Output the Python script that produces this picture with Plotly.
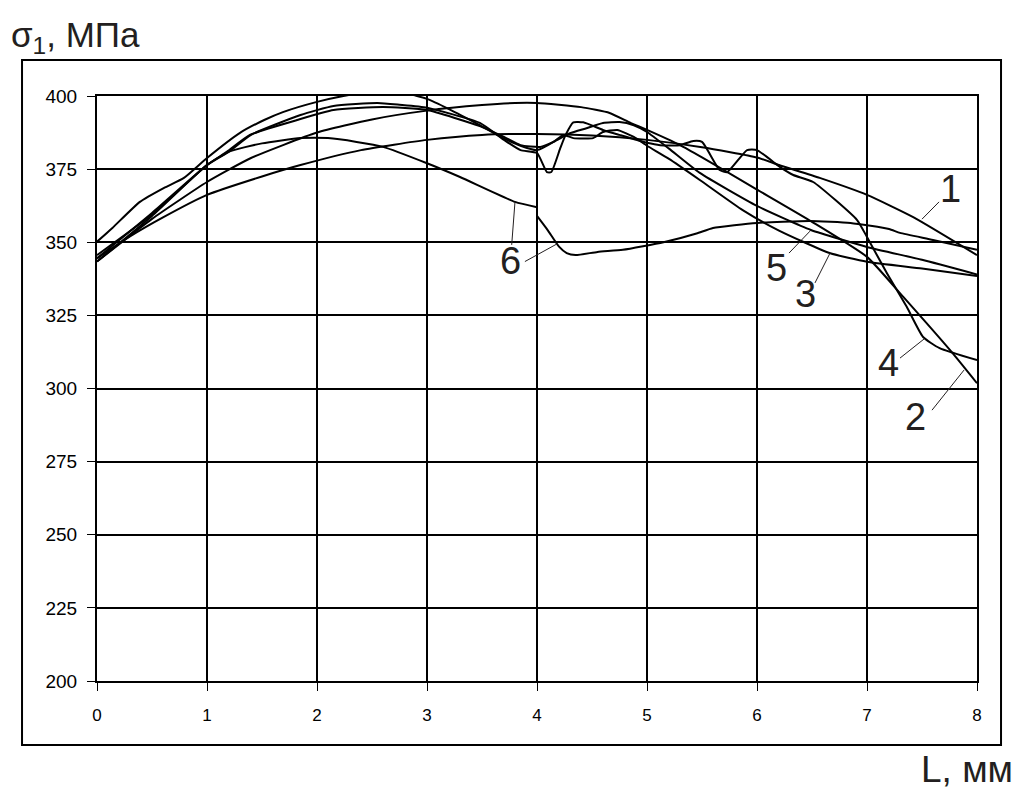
import plotly.graph_objects as go

# ---- data ----
x1 = [0, 0.3, 0.6, 1.0, 1.5, 1.85, 2.4, 3.0, 3.5, 4.0, 4.5, 5.0, 5.5, 6.0, 6.2, 6.57, 7.0, 7.42, 8.0]
y1 = [344.5, 352, 358.5, 366.2, 372.5, 376.4, 381.5, 385, 386.7, 387, 386.5, 385, 382.5, 379, 376.4, 372, 366.2, 358.6, 345.6]

x2 = [0, 0.5, 1.0, 1.4, 2.0, 2.5, 3.0, 3.5, 3.8, 4.0, 4.4, 4.66, 4.85, 5.0, 5.3, 5.5, 6.0, 6.5, 7.0, 7.33, 7.78, 8.0]
y2 = [343.4, 358, 370.6, 378.8, 387.5, 392, 395, 396.9, 397.6, 397.6, 396.2, 394.2, 390.8, 388.4, 383.2, 379, 368, 357, 345, 331.3, 312, 301.8]

x3 = [0, 0.14, 0.39, 0.61, 0.79, 1.0, 1.3, 1.52, 1.69, 2.0, 2.24, 2.5, 2.8, 3.0, 3.2, 3.48, 3.7, 3.85, 4.0, 4.15,
      4.24, 4.33, 4.51, 4.6, 4.73, 4.88, 5.0, 5.2, 5.48, 5.87, 6.2, 6.66, 7.0, 7.5, 8.0]
y3 = [350.2, 354.9, 363.8, 368.6, 372, 378.8, 387.4, 391.8, 394.5, 398, 400, 401.5, 401, 399, 395.5, 390, 385.5, 383, 381.5, 384.3,
      386.7, 385.6, 385.6, 387.7, 388.4, 386, 383, 378.5, 371.3, 361, 354, 346.3, 343.3, 341, 338.5]

x4 = [0, 0.5, 1.0, 1.2, 1.4, 1.85, 2.15, 2.55, 2.75, 3.0, 3.48, 3.7, 3.85, 4.0, 4.09, 4.13, 4.21, 4.26, 4.33, 4.42,
      4.6, 4.75, 5.0, 5.12, 5.3, 5.42, 5.5, 5.66, 5.73, 5.91, 6.0, 6.21, 6.33, 6.51, 6.91, 7.0, 7.18, 7.36, 7.51, 7.66, 8.0]
y4 = [343.4, 359, 376.4, 381, 386.7, 393.5, 396.6, 397.6, 397, 396, 390.8, 385, 381.5, 380.5, 374, 374, 382, 386.7, 391, 391,
      388.4, 386.7, 384, 383.2, 383.2, 384.6, 384.3, 374.7, 374, 381.5, 381.5, 375.7, 373, 370.6, 357.6, 351.8, 339.5, 328, 317.6, 313.8, 309.7]

x5 = [0, 0.5, 1.0, 1.18, 1.39, 1.82, 2.15, 2.6, 3.0, 3.48, 3.7, 3.85, 4.03, 4.15, 4.3, 4.45, 4.6, 4.75, 4.88, 5.0,
      5.2, 5.48, 6.0, 6.49, 7.0, 7.5, 8.0]
y5 = [345.6, 359.5, 376.4, 380.9, 386.7, 391.8, 395.2, 396.2, 395.2, 389.7, 386, 383.2, 382.6, 384.3, 387.3, 389, 390.8, 391.1, 390, 387.7,
      382, 373.7, 362.4, 354.2, 348.4, 344, 339]

x6 = [0, 0.5, 1.0, 1.2, 1.5, 1.85, 2.1, 2.36, 2.6, 3.0, 3.3, 3.8, 4.0, None,
      4.0, 4.1, 4.2, 4.27, 4.35, 4.55, 4.78, 5.15, 5.45, 5.6, 6.0, 6.48, 6.85, 7.2, 7.3, 7.6, 8.0]
y6 = [344.5, 360, 376.4, 381, 383.8, 385.6, 385.6, 384.3, 382.6, 377, 372.3, 363.8, 362, None,
      359, 354, 348.5, 346.3, 345.6, 346.7, 347.4, 350, 353, 354.9, 356.6, 357.3, 356.6, 354.5, 353.2, 350.8, 347.4]

series_names = ["1", "2", "3", "4", "5", "6"]
series_x = [x1, x2, x3, x4, x5, x6]
series_y = [y1, y2, y3, y4, y5, y6]

x_ticks = [0, 1, 2, 3, 4, 5, 6, 7, 8]
y_ticks = [200, 225, 250, 275, 300, 325, 350, 375, 400]

# curve labels: text, label position, pointer start, pointer end (data units)
label_text = ["1", "5", "3", "4", "2", "6", "6"]
label_pos = [(7.755, 368.2), (6.173, 341.2), (6.445, 332.3), (7.191, 308.7), (7.445, 290.4), (3.755, 343.6), None]
pointer_from = [(7.5, 357.9), (6.482, 353.8), (6.664, 346.3), (7.518, 316.9), (7.882, 306.3), (3.80, 363.9), (4.18, 349.4)]
pointer_to = [(7.655, 363.8), (6.291, 346.3), (6.527, 336.1), (7.30, 310.4), (7.591, 292.6), (3.77, 349.1), (3.89, 343.4)]

FONT = "Arial, Liberation Sans, sans-serif"
INK = "#231f20"

fig = go.Figure()
for name, xs, ys in zip(series_names, series_x, series_y):
    fig.add_trace(go.Scatter(x=xs, y=ys, mode="lines", name=name,
                             line=dict(color="black", width=2, shape="spline", smoothing=0.5),
                             connectgaps=False, hoverinfo="skip"))

shapes = []
for p0, p1 in zip(pointer_from, pointer_to):
    shapes.append(dict(type="line", xref="x", yref="y", x0=p0[0], y0=p0[1], x1=p1[0], y1=p1[1],
                       line=dict(color=INK, width=1)))
# outer frame
shapes.append(dict(type="rect", xref="paper", yref="paper", x0=-0.0852, x1=1.0273, y0=-0.1094, y1=1.0615,
                   line=dict(color="black", width=2), layer="below"))

annotations = []
for t, p in zip(label_text, label_pos):
    if p is None:
        continue
    annotations.append(dict(x=p[0], y=p[1], xref="x", yref="y", text=t, showarrow=False,
                            font=dict(family=FONT, size=38, color=INK), xanchor="center", yanchor="middle"))
annotations.append(dict(x=-0.1, y=1.1, xref="paper", yref="paper", text="σ<sub>1</sub>, МПа", showarrow=False,
                        font=dict(family=FONT, size=35, color=INK), xanchor="left", yanchor="middle"))
annotations.append(dict(x=1.043, y=-0.152, xref="paper", yref="paper", text="L, мм", showarrow=False,
                        font=dict(family=FONT, size=37, color=INK), xanchor="right", yanchor="middle"))

fig.update_layout(
    width=1012, height=785,
    margin=dict(l=89, r=43, t=88, b=112),
    paper_bgcolor="white", plot_bgcolor="white",
    showlegend=False,
    shapes=shapes, annotations=annotations,
    xaxis=dict(range=[0, 8], tickvals=x_ticks, ticktext=[str(v) for v in x_ticks],
               showgrid=True, gridcolor="black", gridwidth=2, zeroline=False,
               showline=True, linecolor="black", linewidth=2, mirror=True,
               ticks="outside", ticklen=8, tickwidth=1, tickcolor="black",
               ticklabelstandoff=10,
               tickfont=dict(family=FONT, size=17, color="black")),
    yaxis=dict(range=[200, 400], tickvals=y_ticks, ticktext=[str(v) for v in y_ticks],
               showgrid=True, gridcolor="black", gridwidth=2, zeroline=False,
               showline=True, linecolor="black", linewidth=2, mirror=True,
               ticks="outside", ticklen=8, tickwidth=1, tickcolor="black",
               ticklabelstandoff=6,
               tickfont=dict(family=FONT, size=19, color="black")),
)

fig.write_html("out.html")
